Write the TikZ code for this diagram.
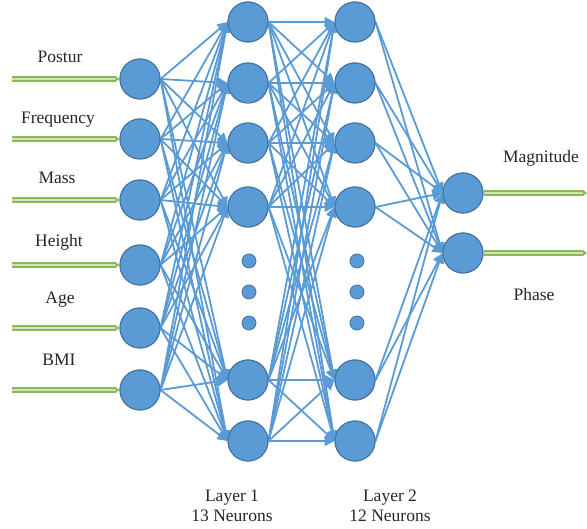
\documentclass[tikz,border=0pt]{standalone}
\usepackage{fontspec}
\setmainfont{Liberation Serif}
\usetikzlibrary{arrows.meta}
\definecolor{nfill}{HTML}{5B9BD5}
\definecolor{nedge}{HTML}{41719C}
\definecolor{wire}{HTML}{5B9BD5}
\definecolor{gout}{HTML}{8CB85C}
\definecolor{gin}{HTML}{CFE6B0}
\begin{document}
\begin{tikzpicture}[x=1pt,y=-1pt,
  neuron/.style={circle,fill=nfill,draw=nedge,line width=1pt,minimum size=40pt,inner sep=0pt},
  dotn/.style={circle,fill=nfill,draw=nedge,line width=0.8pt,minimum size=14pt,inner sep=0pt},
  wirearrow/.style={draw=wire,line width=1.8pt,-{Triangle[length=10pt,width=10pt]}},
  feed/.style={draw=gout,double=gin,line width=1.5pt,double distance=2.4pt,-{Latex[length=4pt,width=7pt]}},
  lbl/.style={font=\fontsize{17.5}{20}\selectfont,text=black!85,inner sep=0pt,align=center}]
\useasboundingbox (0,0) rectangle (587,529);

% input layer
\foreach \y [count=\i] in {79,139,200,265,328,390}
  \node[neuron] (i\i) at (140,\y) {};
% hidden layer 1 and 2
\foreach \y [count=\i] in {22,83,143,207,380,441} {
  \node[neuron] (a\i) at (248,\y) {};
  \node[neuron] (b\i) at (355,\y) {};
}
% output layer
\node[neuron] (o1) at (463,193) {};
\node[neuron] (o2) at (463,253) {};

% omitted neurons
\foreach \y [count=\i] in {261,292,323} {
  \node[dotn] (da\i) at (249,\y) {};
  \node[dotn] (db\i) at (357,\y) {};
}

% connections: each one leaves the east side and enters the west side
\foreach \s in {1,...,6}
  \foreach \t in {1,...,6}
    \draw[wirearrow] (i\s.east) -- (a\t.west);
\foreach \s in {1,...,6}
  \foreach \t in {1,...,6}
    \draw[wirearrow] (a\s.east) -- (b\t.west);
\foreach \s in {1,...,6}
  \foreach \t in {1,2}
    \draw[wirearrow] (b\s.east) -- (o\t.west);

% redraw neurons above the wires
\foreach \i in {1,...,6} {
  \node[neuron] at (i\i) {};
  \node[neuron] at (a\i) {};
  \node[neuron] at (b\i) {};
}
\node[neuron] at (o1) {};
\node[neuron] at (o2) {};

% input feeds and output lines
\foreach \y [count=\i] in {79,139,200,265,328,390} {
  \coordinate (f\i) at (12,\y);
  \draw[feed] (f\i) -- (i\i);
}
\coordinate (g1) at (587,193);
\coordinate (g2) at (587,253);
\draw[feed] (o1) -- (g1);
\draw[feed] (o2) -- (g2);

% labels
\node[lbl] (lp) at (60,57) {Postur};
\node[lbl] (lf) at (58,120) {Frequency};
\node[lbl] (lm) at (57,178) {Mass};
\node[lbl] (lh) at (59,242) {Height};
\node[lbl] (la) at (60,300) {Age};
\node[lbl] (lb) at (59,360) {BMI};
\node[lbl] (lmag) at (541,158) {Magnitude};
\node[lbl] (lph) at (534,295) {Phase};
\node[lbl] (l1) at (232,506) {Layer 1\\13 Neurons};
\node[lbl] (l2) at (390,506) {Layer 2\\12 Neurons};
\end{tikzpicture}
\end{document}
